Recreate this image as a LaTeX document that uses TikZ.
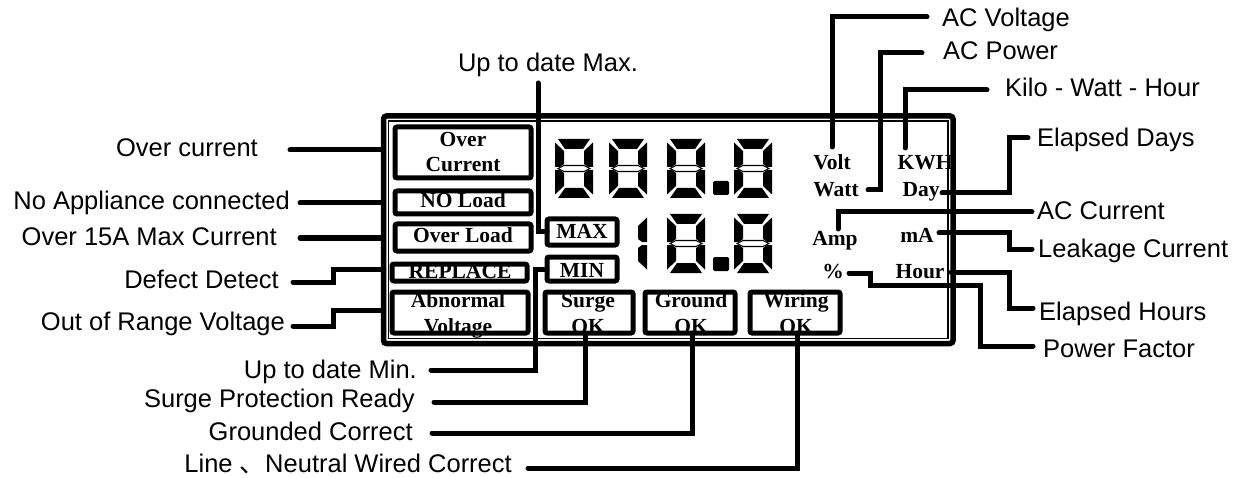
\documentclass[tikz,border=0pt]{standalone}
\usepackage{fontspec}
\setmainfont{Liberation Sans}
\newfontfamily\tnr{Liberation Serif}
\newfontfamily\cjk{Noto Sans CJK SC}
\usetikzlibrary{calc}
\tikzset{
  lbl/.style={font=\fontsize{25.5}{28}\selectfont, inner sep=0pt},
  lcd/.style={font=\tnr\bfseries\fontsize{21.5}{24}\selectfont, inner sep=0pt},
  lcdbox/.style={draw, line width=5pt, rounded corners=2pt, inner sep=0pt, outer sep=0pt},
  conn/.style={line width=5pt, line cap=round, line join=miter},
  segL/.style={line width=1.1pt},
  digiteight/.pic={
    \fill (3,0) -- (35,0) -- (28,10) -- (10,10) -- cycle;
    \fill (0,3.5) -- (9,12) -- (9,25) -- (5,28) -- (0,28) -- cycle;
    \fill (38,3.5) -- (29,12) -- (29,25) -- (33,28) -- (38,28) -- cycle;
    \fill (0,31) -- (5,31) -- (9,34) -- (9,47) -- (0,55.5) -- cycle;
    \fill (38,31) -- (33,31) -- (29,34) -- (29,47) -- (38,55.5) -- cycle;
    \fill (3,59) -- (35,59) -- (28,49) -- (10,49) -- cycle;
    \draw[segL] (3,29.5) -- (9,26.5) -- (29,26.5) -- (35,29.5) -- (29,32.5) -- (9,32.5) -- cycle;
  },
  digitone/.pic={
    \fill (38,3.5) -- (29,12) -- (29,25) -- (33,28) -- (38,28) -- cycle;
    \fill (38,31) -- (33,31) -- (29,34) -- (29,47) -- (38,55.5) -- cycle;
  },
}
\begin{document}
\begin{tikzpicture}[x=1pt,y=-1pt]
\useasboundingbox (0,0) rectangle (1238,478);

% LCD frame
\node[draw, line width=5.5pt, rounded corners=3pt, inner sep=0pt, outer sep=0pt,
      minimum width=569.5pt, minimum height=227.5pt] (frame) at (668.25,229.75) {};
\draw[line width=1.2pt] ([shift={(5pt,-5pt)}]frame.north west) rectangle ([shift={(-5pt,5pt)}]frame.south east);

% digits
\pic at (555,139) {digiteight};
\pic at (609,139) {digiteight};
\pic at (667,139) {digiteight};
\pic at (734,139) {digiteight};
\fill[rounded corners=1.5pt] (713,181) rectangle (729,195);
\pic at (609,214) {digitone};
\pic at (667,214) {digiteight};
\pic at (734,214) {digiteight};
\fill[rounded corners=1.5pt] (713,257) rectangle (729,271);

% LCD texts
\node[lcd, anchor=base] (tover) at (463,147) {Over};
\node[lcd, anchor=base] (tcur) at (463,172) {Current};
\node[lcd, anchor=base] (tnol) at (463,208) {NO Load};
\node[lcd, anchor=base] (tovl) at (463,243) {Over Load};
\node[lcd, anchor=base] (trep) at (460,278) {REPLACE};
\node[lcd, anchor=base] (tabn) at (458,307) {Abnormal};
\node[lcd, anchor=base] (tvol) at (458,333) {Voltage};
\node[lcd, anchor=base] (tmax) at (582,239) {MAX};
\node[lcd, anchor=base] (tmin) at (582,277) {MIN};
\node[lcd, anchor=base] (tsur) at (588,307) {Surge};
\node[lcd, anchor=base] (tsok) at (588,333) {OK};
\node[lcd, anchor=base] (tgro) at (691,307) {Ground};
\node[lcd, anchor=base] (tgok) at (691,333) {OK};
\node[lcd, anchor=base] (twir) at (796,307) {Wiring};
\node[lcd, anchor=base] (twok) at (796,333) {OK};
\node[lcd, anchor=base] (volt) at (832,170) {Volt};
\node[lcd, anchor=base] (watt) at (836,197) {Watt};
\node[lcd, anchor=base] (kwh) at (925,170) {KWH};
\node[lcd, anchor=base] (day) at (921,197) {Day};
\node[lcd, anchor=base] (amp) at (835,245) {Amp};
\node[lcd, anchor=base] (ma) at (917,242) {mA};
\node[lcd, anchor=base] (pct) at (833,278) {\%};
\node[lcd, anchor=base] (hour) at (920,278) {Hour};

% LCD boxes
\node[lcdbox, minimum width=136pt, minimum height=51pt] (ocbox) at (463,152.5) {};
\node[lcdbox, minimum width=136pt, minimum height=23pt] (nlbox) at (463,202.5) {};
\node[lcdbox, minimum width=136pt, minimum height=27pt] (olbox) at (463,237.5) {};
\node[lcdbox, minimum width=135pt, minimum height=17pt] (rpbox) at (459.5,272.5) {};
\node[lcdbox, minimum width=136pt, minimum height=41pt] (avbox) at (460,312.5) {};
\node[lcdbox, minimum width=70pt, minimum height=26pt] (maxbox) at (582,232) {};
\node[lcdbox, minimum width=70pt, minimum height=24pt] (minbox) at (582,269) {};
\node[lcdbox, minimum width=88pt, minimum height=41pt] (surbox) at (589,312.5) {};
\node[lcdbox, minimum width=90pt, minimum height=41pt] (grobox) at (690,312.5) {};
\node[lcdbox, minimum width=90pt, minimum height=41pt] (wirbox) at (795,312.5) {};

% labels left
\node[lbl, anchor=base east] (loc) at (258,157) {Over current};
\node[lbl, anchor=base east] (lnl) at (290,210) {No Appliance connected};
\node[lbl, anchor=base east] (lol) at (277,245) {Over 15A Max Current};
\node[lbl, anchor=base east] (ldd) at (279,288) {Defect Detect};
\node[lbl, anchor=base east] (lav) at (285,330) {Out of Range Voltage};
% labels bottom
\node[lbl, anchor=base east] (lmin) at (417,378) {Up to date Min.};
\node[lbl, anchor=base east] (lsur) at (415,407) {Surge Protection Ready};
\node[lbl, anchor=base east] (lgro) at (413,440) {Grounded Correct};
\node[lbl, anchor=base east] (lwir) at (512,472) {Line {\cjk 、}Neutral Wired Correct};
% label top
\node[lbl, anchor=base] (lmax) at (548,72) {Up to date Max.};
% labels right
\node[lbl, anchor=base west] (lacv) at (942,27) {AC Voltage};
\node[lbl, anchor=base west] (lacp) at (943,60) {AC Power};
\node[lbl, anchor=base west] (lkwh) at (1005,97) {Kilo - Watt - Hour};
\node[lbl, anchor=base west] (lday) at (1037,147) {Elapsed Days};
\node[lbl, anchor=base west] (laca) at (1037,219) {AC Current};
\node[lbl, anchor=base west] (llk) at (1038,257) {Leakage Current};
\node[lbl, anchor=base west] (lhr) at (1039,320) {Elapsed Hours};
\node[lbl, anchor=base west] (lpf) at (1043,357) {Power Factor};

% connector end points
\coordinate (cOC) at (290,150);
\coordinate (cNL) at (300,203);
\coordinate (cOL) at (300,238);
\coordinate (cDD) at (293,282);
\coordinate (cAV) at (293,326);
\coordinate (cMIN) at (431,370);
\coordinate (cSUR) at (434,402);
\coordinate (cGRO) at (432,433);
\coordinate (cWIR) at (528,468);
\coordinate (cMAX) at (538,83);
\coordinate (cACV) at (927,17);
\coordinate (cACP) at (922,53);
\coordinate (cKWH) at (987,90);
\coordinate (cDAY) at (1028,138);
\coordinate (cACA) at (1032,212);
\coordinate (cLK) at (1032,249);
\coordinate (cHR) at (1033,308);
\coordinate (cPF) at (1033,346);

% left connectors
\draw[conn] (cOC) -- (cOC -| frame.west);
\draw[conn] (cNL) -- (cNL -| frame.west);
\draw[conn] (cOL) -- (cOL -| frame.west);
\draw[conn] (cDD) -- (333,282) -- (333,269) -- (frame.west |- 0,269);
\draw[conn] (cAV) -- (333,326) -- (333,310) -- (frame.west |- 0,310);
% top / bottom connectors
\draw[conn] (cMAX) |- (maxbox.west);
\draw[conn] (cMIN) -| (535,269) -- (minbox.west);
\draw[conn] (cSUR) -| ([xshift=-4pt]surbox.south);
\draw[conn] (cGRO) -| ([xshift=2pt]grobox.south);
\draw[conn] (cWIR) -| ([xshift=2pt]wirbox.south);
% right connectors
\draw[conn] (832,147) |- (cACV);
\draw[conn] (868,190) -- (880,190) |- (cACP);
\draw[conn] (905,148) |- (cKWH);
\draw[conn] (942,193) -- (1009,193) |- (cDAY);
\draw[conn] (838,229) |- (cACA);
\draw[conn] (939,233) -- (1009,233) |- (cLK);
\draw[conn] (951,272) -- (1009,272) |- (cHR);
\draw[conn] (849,273) -- (870,273) -- (870,285) -- (980,285) |- (cPF);
\end{tikzpicture}
\end{document}
